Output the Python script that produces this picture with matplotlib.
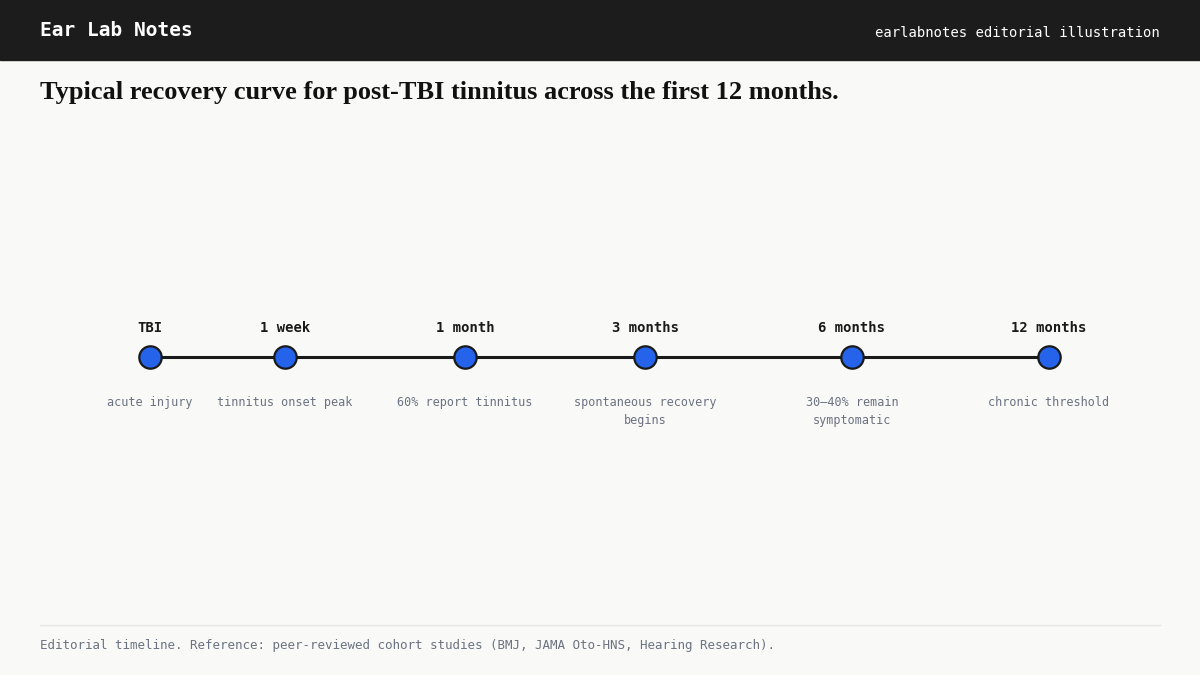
import matplotlib
matplotlib.use("Agg")
import matplotlib.pyplot as plt
from matplotlib.patches import Rectangle

milestones = ["TBI", "1 week", "1 month", "3 months", "6 months", "12 months"]
descriptions = ["acute injury", "tinnitus onset peak", "60% report tinnitus",
                "spontaneous recovery\nbegins", "30–40% remain\nsymptomatic", "chronic threshold"]
x_positions = [150, 285, 465, 645, 852, 1049]

mono = ["DejaVu Sans Mono"]
fig = plt.figure(figsize=(12, 6.75), dpi=100)
fig.patch.set_facecolor("#f9f9f7")
ax = fig.add_axes([0, 0, 1, 1])
ax.set_xlim(0, 1200)
ax.set_ylim(675, 0)
ax.axis("off")

ax.add_patch(Rectangle((0, 0), 1200, 60, color="#1c1c1c", zorder=1))
ax.text(40, 31, "Ear Lab Notes", color="white", fontsize=14, fontweight="bold",
        family=mono, va="center")
ax.text(1160, 33, "earlabnotes editorial illustration", color="white", fontsize=10,
        family=mono, va="center", ha="right")
ax.text(40, 92, "Typical recovery curve for post-TBI tinnitus across the first 12 months.",
        fontsize=19, fontweight="bold", family=["Liberation Serif"], va="center", color="#111")

ax.plot(x_positions, [357] * len(x_positions), color="#1a1a1a", lw=2.2, zorder=2)
ax.scatter(x_positions, [357] * len(x_positions), s=260, color="#2563eb",
           edgecolor="#1a1a1a", linewidth=1.6, zorder=3)
for x, m, d in zip(x_positions, milestones, descriptions):
    ax.text(x, 328, m, ha="center", va="center", fontsize=10, fontweight="bold",
            family=mono, color="#1a1a1a")
    ax.text(x, 396, d, ha="center", va="top", fontsize=8.5, family=mono,
            color="#6b7280", linespacing=1.5)

ax.plot([40, 1160], [625, 625], color="#e5e5e5", lw=1)
ax.text(40, 646, "Editorial timeline. Reference: peer-reviewed cohort studies (BMJ, JAMA Oto-HNS, Hearing Research).",
        fontsize=9, family=mono, color="#6b7280", va="center")

fig.savefig("out.png", dpi=100, facecolor=fig.get_facecolor())
